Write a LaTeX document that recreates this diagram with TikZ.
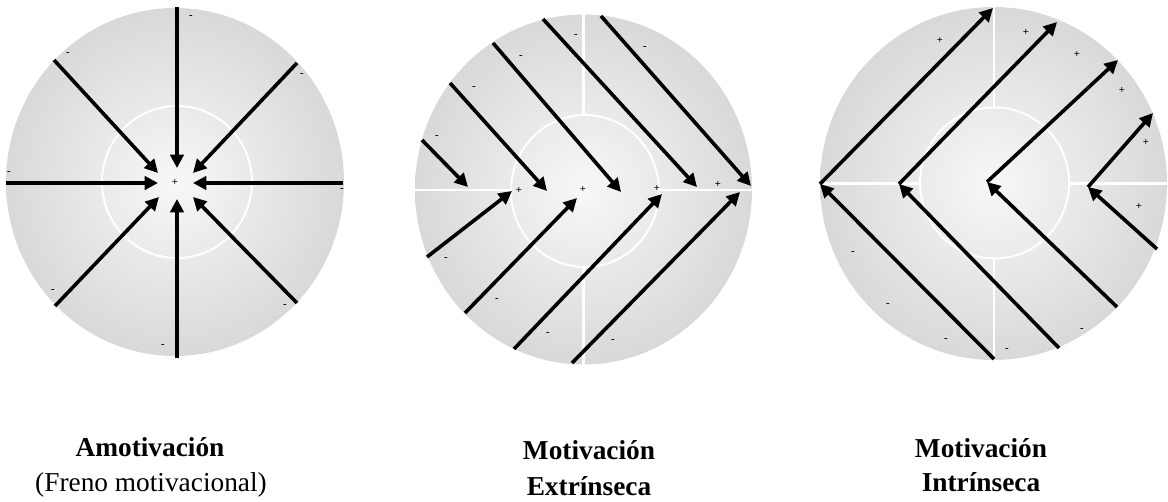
\documentclass[tikz,border=0pt]{standalone}
\usepackage{fontspec}
\setmainfont{Liberation Serif}
\usetikzlibrary{arrows.meta}

\begin{document}
\begin{tikzpicture}[x=0.75pt,y=0.75pt,yscale=-1,xscale=1,
  disc/.style={inner color=black!3,outer color=black!15},
  seam/.style={draw=white,line width=1.5pt},
  cross/.style={draw=white,line width=2.2pt},
  arrowline/.style={line width=2.7pt,-{Triangle[length=10pt,width=10pt]}},
  sgn/.style={inner sep=0pt,font=\fontsize{8}{8}\selectfont\bfseries},
  title/.style={inner sep=0pt,anchor=base,font=\fontsize{20.5}{24}\selectfont\bfseries},
  subtitle/.style={inner sep=0pt,anchor=base,font=\fontsize{20.5}{24}\selectfont}]
\path[use as bounding box] (0,0) rectangle (1168,502);

%Shape: Circle (amotivacion)
\shade[disc] (175,182) ellipse [x radius=169,y radius=174];
\draw[seam] (177,182) ellipse [x radius=75,y radius=76];
%Straight Lines
\draw[arrowline] (177,7) -- (177,168);
\draw[arrowline] (177,358) -- (177,199);
\draw[arrowline] (6,183) -- (158,183);
\draw[arrowline] (343,183) -- (193,183);
\draw[arrowline] (54,60) -- (158,173);
\draw[arrowline] (297,63) -- (193,173);
\draw[arrowline] (55,306) -- (159,197);
\draw[arrowline] (297,303) -- (193,197);
% Text Node
\node[sgn] (ap) at (175,182) {+};
\node[sgn] (am1) at (191,17) {-};
\node[sgn] (am2) at (68,54) {-};
\node[sgn] (am3) at (302,75) {-};
\node[sgn] (am4) at (9,173) {-};
\node[sgn] (am5) at (342,190) {-};
\node[sgn] (am6) at (53,291) {-};
\node[sgn] (am7) at (285,306) {-};
\node[sgn] (am8) at (163,346) {-};

%Shape: Circle (extrinseca)
\shade[disc] (583.5,189.5) ellipse [x radius=168.5,y radius=175];
\draw[seam] (585,191) ellipse [x radius=74,y radius=76];
\draw[cross] (415,190) -- (511,190) (659,190) -- (752,190);
\draw[cross] (583.5,14) -- (583.5,115) (583.5,267) -- (583.5,365);
%Straight Lines
\draw[arrowline] (422,140) -- (468,187);
\draw[arrowline] (450,83) -- (547,191);
\draw[arrowline] (493,43) -- (621,192);
\draw[arrowline] (543,19) -- (697,187);
\draw[arrowline] (601,16) -- (751,186);
\draw[arrowline] (427,257) -- (512,191);
\draw[arrowline] (465,313) -- (577,198);
\draw[arrowline] (514,349) -- (662,194);
\draw[arrowline] (572,363) -- (740,192);
% Text Node
\node[sgn] (ep1) at (519,190) {+};
\node[sgn] (ep2) at (583,189) {+};
\node[sgn] (ep3) at (657,188) {+};
\node[sgn] (ep4) at (718,184) {+};
\node[sgn] (em1) at (437,137) {-};
\node[sgn] (em2) at (474,88) {-};
\node[sgn] (em3) at (521,57) {-};
\node[sgn] (em4) at (576,36) {-};
\node[sgn] (em5) at (645,48) {-};
\node[sgn] (em6) at (446,259) {-};
\node[sgn] (em7) at (497,300) {-};
\node[sgn] (em8) at (548,334) {-};
\node[sgn] (em9) at (613,341) {-};

%Shape: Circle (intrinseca)
\shade[disc] (993.5,183.5) ellipse [x radius=173.5,y radius=176.5];
\draw[seam] (994.5,183) ellipse [x radius=74.5,y radius=75.5];
\draw[cross] (820,183.5) -- (920,183.5) (1069,183.5) -- (1167,183.5);
\draw[cross] (994,7) -- (994,108) (994,258) -- (994,360);
%Straight Lines
\draw[arrowline] (994,359) -- (820,184);
\draw[arrowline] (820,184) -- (993,8);
\draw[arrowline] (1059,348) -- (899,184);
\draw[arrowline] (899,184) -- (1057,22);
\draw[arrowline] (1117,307) -- (987,182);
\draw[arrowline] (987,182) -- (1118,60);
\draw[arrowline] (1157,249) -- (1088,187);
\draw[arrowline] (1088,187) -- (1153,113);
% Text Node
\node[sgn] (ip1) at (940,40) {+};
\node[sgn] (ip2) at (1026,32) {+};
\node[sgn] (ip3) at (1077,54) {+};
\node[sgn] (ip4) at (1122,90) {+};
\node[sgn] (ip5) at (1146,142) {+};
\node[sgn] (ip6) at (1139,206) {+};
\node[sgn] (im1) at (853,253) {-};
\node[sgn] (im2) at (888,305) {-};
\node[sgn] (im3) at (946,340) {-};
\node[sgn] (im4) at (1007,350) {-};
\node[sgn] (im5) at (1082,330) {-};

% Text Node
\node[title] (amot) at (150,456) {Amotivación};
\node[subtitle] (freno) at (151,491) {(Freno motivacional)};
\node[title] (motE) at (589,459) {Motivación};
\node[title] (extr) at (589,495) {Extrínseca};
\node[title] (motI) at (981,457) {Motivación};
\node[title] (intr) at (981,491) {Intrínseca};
\end{tikzpicture}
\end{document}
